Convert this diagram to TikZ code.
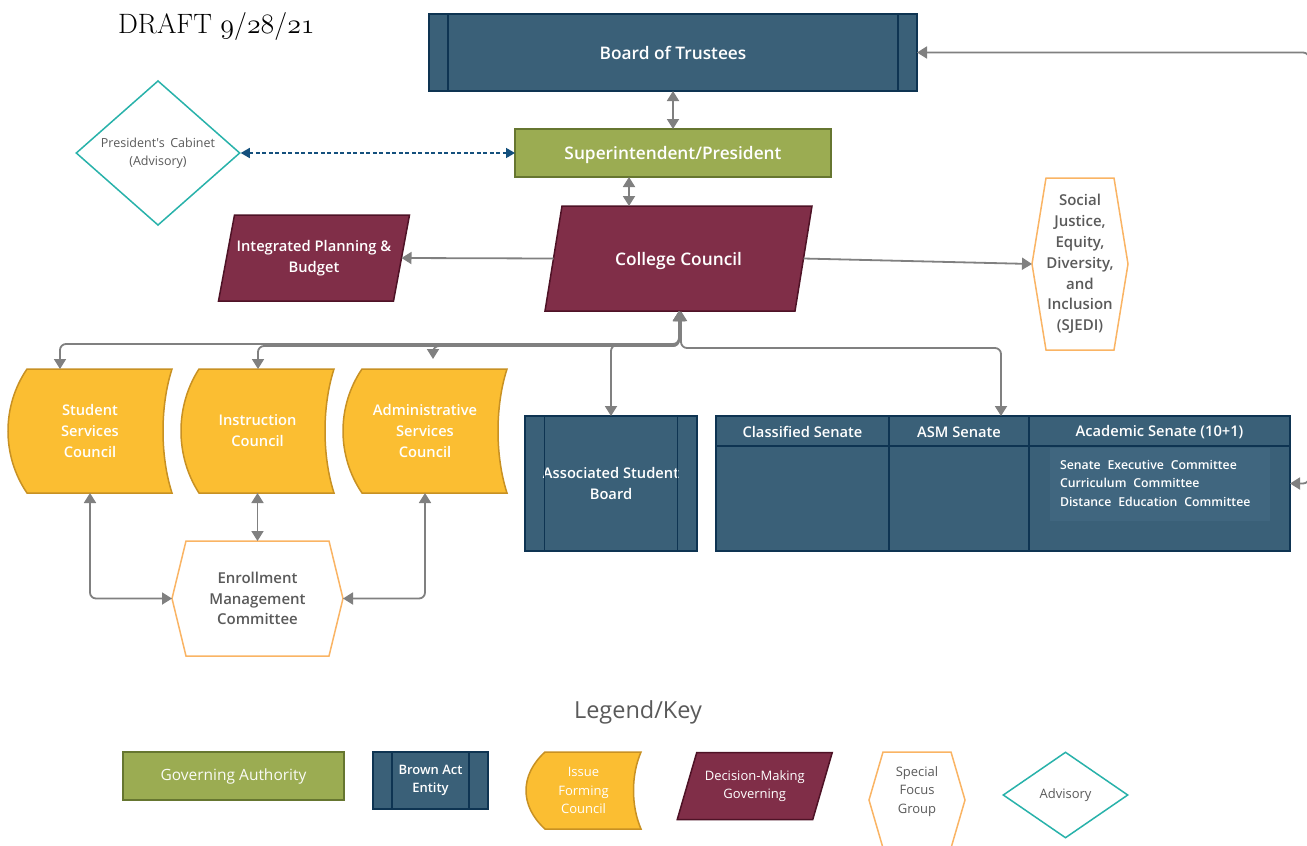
\RequirePackage{fix-cm}
\documentclass[tikz,border=0pt]{standalone}
\usepackage{fontspec}
\setsansfont{Open Sans}
\newfontfamily\widesp{Open Sans}[WordSpace=1.7]
\IfFontExistsTF{Open Sans SemiBold}{%
  \newfontfamily\sbf{Open Sans SemiBold}}{%
  \IfFontExistsTF{Open Sans Semibold}{%
    \newfontfamily\sbf{Open Sans Semibold}}{%
    \newcommand\sbf{\sffamily\bfseries}}}
\newcommand\wsp{~\hspace{0.3em}}
\usetikzlibrary{arrows.meta,shapes.geometric,calc}
\pgfdeclarelayer{bg}
\pgfsetlayers{bg,main}
\definecolor{navy}{RGB}{58,96,120}
\definecolor{navyd}{RGB}{14,52,82}
\definecolor{navyl}{RGB}{64,102,127}
\definecolor{olive}{RGB}{155,172,82}
\definecolor{olived}{RGB}{102,118,48}
\definecolor{maroon}{RGB}{128,46,72}
\definecolor{maroond}{RGB}{78,18,38}
\definecolor{gold}{RGB}{251,190,50}
\definecolor{goldd}{RGB}{200,145,35}
\definecolor{peach}{RGB}{250,180,100}
\definecolor{teal}{RGB}{40,178,170}
\definecolor{cgray}{RGB}{128,128,128}
\definecolor{tgray}{RGB}{90,90,90}
\definecolor{dblue}{RGB}{20,80,125}
% issue-forming shape: node, left inset, right concave control offset
\newcommand\drawIF[3]{%
  \begin{pgfonlayer}{bg}
  \draw[ifbox] ([xshift=#2]#1.north west) -- (#1.north east)
     .. controls ($(#1.north east)!0.3!(#1.south east)+(-#3,0)$)
        and ($(#1.north east)!0.7!(#1.south east)+(-#3,0)$) .. (#1.south east)
     -- ([xshift=#2]#1.south west)
     .. controls ($(#1.north west)!0.7!(#1.south west)+(-#2/3,0)$)
        and ($(#1.north west)!0.3!(#1.south west)+(-#2/3,0)$) .. ([xshift=#2]#1.north west) -- cycle;
  \end{pgfonlayer}}
\newcommand\drawBA[2]{%
  \draw[navyline] ([xshift=#2]#1.north west) -- ([xshift=#2]#1.south west);
  \draw[navyline] ([xshift=-#2]#1.north east) -- ([xshift=-#2]#1.south east);}
\newcommand\drawPG[2]{%
  \begin{pgfonlayer}{bg}
  \draw[pgbox] ([xshift=#2]#1.north west) -- ([xshift=#2]#1.north east)
     -- ([xshift=-#2]#1.south east) -- ([xshift=-#2]#1.south west) -- cycle;
  \end{pgfonlayer}}
\newcommand\drawHX[2]{%
  \begin{pgfonlayer}{bg}
  \draw[hxbox] (#1.west) -- ([xshift=#2]#1.north west) -- ([xshift=-#2]#1.north east)
     -- (#1.east) -- ([xshift=-#2]#1.south east) -- ([xshift=#2]#1.south west) -- cycle;
  \end{pgfonlayer}}
\begin{document}
\begin{tikzpicture}[x=1pt,y=-1pt,
  >={Triangle[length=10pt,width=12pt]},
  base/.style={rectangle,inner sep=0pt,outer sep=0pt,align=center},
  navybox/.style={base,fill=navy,draw=navyd,line width=1.5pt,text=white},
  navyline/.style={draw=navyd,line width=1.5pt},
  greenbox/.style={base,fill=olive,draw=olived,line width=1.5pt,text=white},
  plain/.style={base,draw=none},
  ifbox/.style={fill=gold,draw=goldd,line width=1.5pt},
  pgbox/.style={fill=maroon,draw=maroond,line width=1.5pt},
  hxbox/.style={fill=white,draw=peach,line width=1.5pt},
  conn/.style={draw=cgray,line width=1.8pt,rounded corners=6pt},
  dashblue/.style={draw=dblue,line width=1.5pt,dash pattern=on 4pt off 2.5pt,
     >={Triangle[length=9pt,width=10pt]}},
  bigw/.style={font=\sbf\fontsize{17.3}{21}\selectfont,text=white,text height=17pt,text depth=3.6pt},
  midw/.style={font=\sbf\fontsize{14.7}{21}\selectfont,text=white},
  grayt/.style={font=\sbf\fontsize{15}{20.8}\selectfont,text=tgray},
  legw/.style={font=\sffamily\fontsize{13}{18.5}\selectfont,text=white},
  legg/.style={font=\sffamily\fontsize{13}{18.5}\selectfont,text=tgray},
]
\useasboundingbox (0,0) rectangle (1307,846);
\begin{pgfonlayer}{bg}
\fill[white] (0,0) rectangle (1307,846);
\end{pgfonlayer}

% title
\node[anchor=base west,inner sep=0pt,font=\rmfamily\fontsize{28}{30}\selectfont] (draft) at (118,33)
  {DRAFT $\mathnormal{9/28/21}$};

% top
\node[navybox,bigw,minimum width=488,minimum height=77] (bot) at (673,52.5) {Board of Trustees};
\drawBA{bot}{19}
\node[greenbox,bigw,minimum width=316,minimum height=48] (pres) at (673,153) {Superintendent/President};
\node[diamond,draw=teal,fill=white,line width=1.5pt,inner sep=0pt,minimum width=164,minimum height=143,
  align=center,text=tgray,font=\widesp\fontsize{12.5}{18}\selectfont] (cab) at (158,153)
  {President's Cabinet\\(Advisory)};

% decision-making
\node[plain,bigw,minimum width=250,minimum height=105] (cc) at (678.5,258.5) {College Council};
\drawPG{cc}{8.5}
\node[plain,midw,minimum width=175,minimum height=86] (ipb) at (314,258) {Integrated Planning \&\\Budget};
\drawPG{ipb}{8}

% SJEDI
\node[plain,grayt,minimum width=96,minimum height=172] (sj) at (1080,264)
  {Social\\Justice,\\Equity,\\Diversity,\\and\\Inclusion\\(SJEDI)};
\drawHX{sj}{14}

% councils
\node[plain,midw,minimum width=164,minimum height=124] (ssc) at (90,431) {Student\\Services\\Council};
\drawIF{ssc}{19}{12}
\node[plain,midw,minimum width=153,minimum height=124] (ic) at (257.5,431) {Instruction\\Council};
\drawIF{ic}{18}{12}
\node[plain,midw,minimum width=164,minimum height=124] (asc) at (425,431) {Administrative\\Services\\Council};
\drawIF{asc}{19}{12}

\node[plain,grayt,minimum width=171,minimum height=115] (emc) at (257.5,598.5)
  {Enrollment\\Management\\Committee};
\drawHX{emc}{14}

% Associated Student Board
\node[navybox,midw,minimum width=172,minimum height=135] (asb) at (611,483.5) {Associated Student\\Board};
\drawBA{asb}{19.5}

% senate table
\node[navybox,minimum width=574,minimum height=135] (sen) at (1003,483.5) {};
\fill[navyl] (1050,448) rectangle (1270,521);
\coordinate (hdr) at (0,446);
\coordinate (c1) at (889,0);
\coordinate (c2) at (1029,0);
\draw[navyline] (sen.west |- hdr) -- (sen.east |- hdr);
\draw[navyline] (c1 |- sen.north) -- (c1 |- sen.south);
\draw[navyline] (c2 |- sen.north) -- (c2 |- sen.south);
\node[plain,midw] (cls) at (802.5,432) {Classified Senate};
\node[plain,midw] (asm) at (959,432) {ASM Senate};
\node[plain,midw] (acs) at (1159.5,432) {Academic Senate (10+1)};
\node[plain,anchor=west,align=left,text=white,font=\sbf\fontsize{12.3}{18.5}\selectfont] (com) at (1060,483)
  {Senate\wsp Executive\wsp Committee\\Curriculum\wsp Committee\\Distance\wsp Education\wsp Committee};

% connectors
\draw[conn,<->] (bot.south) -- (pres.north);
\coordinate (pc) at ($(pres.south)+(-44,0)$);
\draw[conn,<->] (pc) -- (pc |- cc.north);
\draw[dashblue,<->] (cab.east) -- (pres.west);
\draw[conn,->] (cc.west) -- (ipb.east);
\draw[conn,->] (cc.east) -- (sj.west);
\coordinate (ccb) at ($(cc.south)+(0.5,0)$);
\coordinate (ccb2) at ($(cc.south)+(2.5,0)$);
\draw[conn,<->] (ccb) |- ($(ssc.north)+(-30,-25)$) -- ($(ssc.north)+(-30,0)$);
\draw[conn,<->] (ccb) |- ($(ic.north)+(0.5,-23)$) -- ($(ic.north)+(0.5,0)$);
\draw[conn,<->] (ccb) |- ($(asc.north)+(8,-23)$) -- ($(asc.north)+(8,-10)$);
\draw[conn,<->] (ccb) |- ($(asb.north)+(0,-71)$) -- (asb.north);
\draw[conn,<->] (ccb2) |- ($(sen.north)+(-2,-68)$) -- ($(sen.north)+(-2,0)$);
\draw[conn,<->] (ssc.south) |- (emc.west);
\draw[conn,<->] (ic.south) -- (emc.north);
\draw[conn,<->] (asc.south) |- (emc.east);
\draw[conn,<->] (bot.east) -- ($(bot.east)+(392,0)$) |- (sen.east);

% legend
\node[inner sep=0pt,font=\sffamily\fontsize{23.5}{27}\selectfont,text=tgray] (lk) at (638,712) {Legend/Key};
\node[greenbox,font=\sffamily\fontsize{15.5}{19}\selectfont,text=white!95!olive,minimum width=221,minimum height=48] (lga) at (233.5,776) {Governing Authority};
\node[navybox,font=\sbf\fontsize{13}{18.5}\selectfont,minimum width=115,minimum height=57] (lba) at (430.5,780.5) {Brown Act\\Entity};
\drawBA{lba}{19}
\node[plain,legw,minimum width=115,minimum height=77] (lif) at (583.5,790.5) {Issue\\Forming\\Council};
\drawIF{lif}{19}{10}
\node[plain,legw,minimum width=135.5,minimum height=67] (ldm) at (754.75,786) {Decision-Making\\Governing};
\drawPG{ldm}{9.75}
\node[plain,legg,minimum width=96,minimum height=96] (lsf) at (917,791.5) {Special\\Focus\\Group};
\begin{pgfonlayer}{bg}
\draw[hxbox] (869,800) -- (883,752) -- (951,752) -- (965,800) -- (951,848) -- (883,848) -- cycle;
\end{pgfonlayer}
\node[diamond,draw=teal,fill=white,line width=1.5pt,inner sep=0pt,minimum width=125,minimum height=86,
  legg] (lad) at (1065.5,795) {Advisory};
\end{tikzpicture}
\end{document}
